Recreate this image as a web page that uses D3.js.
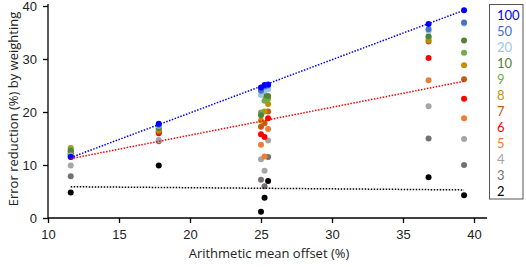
<!DOCTYPE html>
<html>
<head>
<meta charset="utf-8">
<script src="https://cdn.jsdelivr.net/npm/d3@7"></script>
<style>
    body { margin: 0; background: #fff; }
    svg { display: block; font-family: "Open Sans", "Liberation Sans", sans-serif; }
    .axis path, .axis line { stroke: #000; stroke-width: 1.3; }
    .axis text { font-size: 13px; fill: #222; }
</style>
</head>
<body>
<script>
// series names as shown in the legend, top to bottom
const seriesNames = ['100', '50', '20', '10', '9', '8', '7', '6', '5', '4', '3', '2'];
const seriesColors = ['#0000ff', '#4472c4', '#9dc3e6', '#548235', '#70ad47', '#bf9000',
    '#c55a11', '#ff0000', '#ed7d31', '#a5a5a5', '#767171', '#000000'];

// arithmetic mean offset (%) of each sample
const offsets = [11.6, 17.8, 25.0, 25.25, 25.5, 36.8, 39.3];

// error reduction (%) per series, one value per offset
const s100 = [11.5, 17.8, 24.6, 25.1, 25.2, 36.6, 39.2];
const s50  = [11.6, 17.6, 24.0, 24.8, 25.0, 35.6, 36.9];
const s20  = [11.8, 17.4, 23.2, 24.0, 24.3, 35.3, 36.7];
const s10  = [12.7, 17.0, 19.4, 23.2, 23.0, 34.3, 33.5];
const s9   = [13.0, 16.9, 19.9, 22.1, 22.5, 34.0, 31.2];
const s8   = [13.2, 16.6, 18.4, 20.1, 21.5, 33.6, 28.8];
const s7   = [12.5, 16.3, 17.2, 17.9, 20.1, 33.3, 26.2];
const s6   = [12.0, 16.0, 15.8, 15.3, 18.8, 30.2, 22.5];
const s5   = [12.2, 16.2, 13.8, 11.6, 16.8, 26.0, 18.8];
const s4   = [9.9, 14.7, 11.1, 8.9, 14.6, 21.1, 14.9];
const s3   = [7.9, 14.5, 7.2, 6.0, 11.5, 15.0, 10.0];
const s2   = [4.8, 9.9, 1.2, 3.8, 7.0, 7.7, 4.3];
const seriesValues = [s100, s50, s20, s10, s9, s8, s7, s6, s5, s4, s3, s2];

// dotted trend lines (start and end of each)
const trendX = [11.6, 39.3];
const trend100 = [11.4, 39.2];
const trend6 = [11.2, 25.8];
const trend2 = [5.9, 5.3];

const xTicks = [10, 15, 20, 25, 30, 35, 40];
const yTicks = [0, 10, 20, 30, 40];

const width = 526, height = 267;
const margin = {top: 6, left: 48, right: 39, bottom: 49};

const svg = d3.select('body').append('svg')
    .attr('width', width)
    .attr('height', height);

const x = d3.scaleLinear().domain([10, 40]).range([margin.left, 474]);
const y = d3.scaleLinear().domain([0, 40]).range([height - margin.bottom, margin.top]);

// axes
const xAxisG = svg.append('g')
    .attr('class', 'axis')
    .attr('transform', 'translate(0,' + y(0) + ')')
    .call(d3.axisBottom(x).tickValues(xTicks).tickSize(5).tickPadding(7).tickSizeOuter(0));
xAxisG.select('.domain').attr('d', 'M' + x(10) + ',0H' + (width - margin.right));

const yAxisG = svg.append('g')
    .attr('class', 'axis')
    .attr('transform', 'translate(' + x(10) + ',0)')
    .call(d3.axisLeft(y).tickValues(yTicks).tickSize(5).tickPadding(6).tickSizeOuter(0));
yAxisG.select('.domain').attr('d', 'M0,' + y(0) + 'V' + (margin.top - 2));

svg.append('text')
    .attr('x', 269)
    .attr('y', 258)
    .attr('text-anchor', 'middle')
    .style('font-size', '13px')
    .style('fill', '#222')
    .text('Arithmetic mean offset (%)');

svg.append('text')
    .attr('transform', 'translate(18,' + 109 + ') rotate(-90)')
    .attr('text-anchor', 'middle')
    .style('font-size', '13px')
    .style('fill', '#222')
    .text('Error reduction (%) by weighting');

// points, drawn from the lowest series upward so 100 sits on top
const body = svg.append('g').attr('class', 'body');
for (let i = seriesNames.length - 1; i >= 0; i--) {
    body.append('g')
        .selectAll('circle')
        .data(seriesValues[i].map((v, j) => ({x: offsets[j], y: v})))
        .join('circle')
        .attr('cx', d => x(d.x))
        .attr('cy', d => y(d.y))
        .attr('r', 3)
        .attr('fill', seriesColors[i]);
}

// trend lines
const trends = [
    {vals: trend2, color: '#000'},
    {vals: trend6, color: '#ff0000'},
    {vals: trend100, color: '#0000ff'}
];
const line = d3.line().x(d => x(d[0])).y(d => y(d[1]));
trends.forEach(t => {
    svg.append('path')
        .attr('d', line(trendX.map((xv, k) => [xv, t.vals[k]])))
        .attr('fill', 'none')
        .attr('stroke', t.color)
        .attr('stroke-width', 1.5)
        .attr('stroke-dasharray', '1.5,1.5');
});

// legend
const legend = svg.append('g').attr('class', 'legend');
legend.append('rect')
    .attr('x', 489.5)
    .attr('y', 4.5)
    .attr('width', 33.5)
    .attr('height', 194.5)
    .attr('fill', '#fff')
    .attr('stroke', '#555')
    .attr('stroke-width', 1);
legend.selectAll('text')
    .data(seriesNames)
    .join('text')
    .attr('x', 497)
    .attr('y', (d, i) => 20 + i * 16)
    .style('font-family', 'Lato, "Liberation Sans", sans-serif')
    .style('font-size', '13px')
    .style('fill', (d, i) => seriesColors[i])
    .text(d => d);
</script>
</body>
</html>
